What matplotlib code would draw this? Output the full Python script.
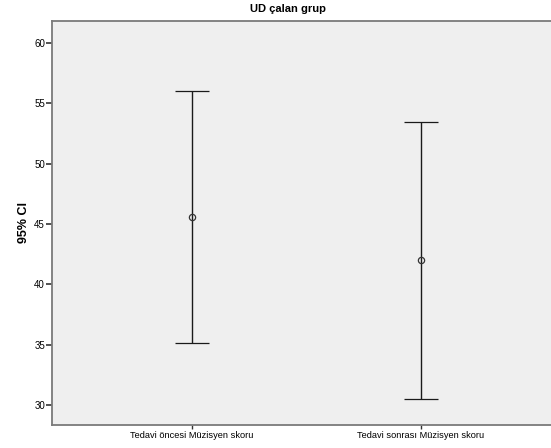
import matplotlib.pyplot as plt

# 95% confidence intervals of musician score, before and after treatment
groups = ['Tedavi öncesi Müzisyen skoru', 'Tedavi sonrası Müzisyen skoru']
means = [45.57, 42.0]
lower = [35.13, 30.55]
upper = [56.0, 53.45]

plt.rcParams['font.family'] = ['Liberation Sans', 'DejaVu Sans']

fig = plt.figure(figsize=(5.51, 4.48), dpi=100)
ax = fig.add_axes([52 / 551, 1 - 424.5 / 448, 499 / 551, (424.5 - 21) / 448])
ax.set_facecolor('#efefef')

pos = list(range(1, len(groups) + 1))
err = [[m - lo for m, lo in zip(means, lower)],
       [hi - m for m, hi in zip(means, upper)]]
ax.errorbar(pos, means, yerr=err, fmt='o', mfc='none', mec='#333333',
            ms=4.5, mew=0.9, ecolor='#1a1a1a', elinewidth=1.0,
            capsize=12.2, capthick=1.0)

ax.set_xlim(0.387, 2.571)
ax.set_ylim(28.41, 61.8)
ax.set_xticks(pos)
ax.set_xticklabels(groups, fontsize=6.7)
ax.set_yticks([30, 35, 40, 45, 50, 55, 60])
ax.tick_params(axis='y', labelsize=7, length=4, width=1.2, color='#333333', pad=1)
ax.tick_params(axis='x', length=3, width=1.0, color='#333333', pad=2)

for side in ['top', 'left', 'bottom']:
    ax.spines[side].set_color('#7a7a7a')
    ax.spines[side].set_linewidth(1.3)
ax.spines['right'].set_visible(False)

ax.set_ylabel('95% CI', fontsize=9, fontweight='bold', labelpad=3)
fig.text(288 / 551, 1 - 9 / 448, 'UD çalan grup', ha='center', va='center',
         fontsize=8, fontweight='bold')

fig.savefig('out.png', dpi=100, facecolor='white')
